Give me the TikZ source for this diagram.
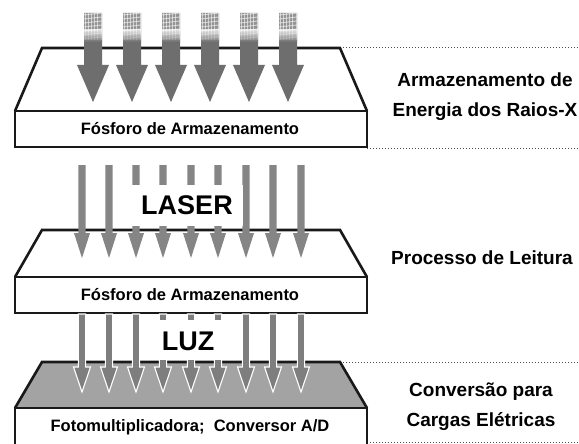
\documentclass[tikz,border=0pt]{standalone}
\usepackage{fontspec}
\setmainfont{Liberation Sans}
\definecolor{arrA}{HTML}{6E6E6E}
\definecolor{arrB}{HTML}{858585}
\definecolor{arrC}{HTML}{7E7E7E}
\definecolor{faceC}{HTML}{A3A3A3}
\newcommand\myarrow[7]{% x, ytop, yhead, ytip, halfshaft, halfhead, style
  \path[#7] (#1-#5,#2) -- (#1+#5,#2) -- (#1+#5,#3) -- (#1+#6,#3) -- (#1,#4)
    -- (#1-#6,#3) -- (#1-#5,#3) -- cycle;}
\newcommand\myplate[5]{% ytop, yfront, ybot, face fill, name
  \path[platefill,fill=#4] (42,#1) -- (340,#1) -- (367,#2) -- (15,#2) -- cycle;
  \draw[plateline] (15,#2) -- (42,#1) -- (340,#1) -- (367,#2);
  \draw[plateline,fill=white] (15,#2) rectangle (367,#3);
  \coordinate (#5) at (190,{(#2+#3)/2});}
\tikzset{
  plateline/.style={line width=2.6pt,line join=miter,draw=black!90},
  platefill/.style={draw=none},
  dotline/.style={dotted,line width=1pt,draw=black!70},
  platetext/.style={font=\fontsize{16.5}{18}\selectfont\bfseries,inner sep=0pt},
  sidetext/.style={font=\fontsize{19}{30}\selectfont\bfseries,align=center,inner sep=0pt},
  bigtext/.style={font=\fontsize{27}{30}\selectfont\bfseries,inner sep=0pt},
}
\begin{document}
\begin{tikzpicture}[x=1pt,y=-1pt]
\useasboundingbox (0,0) rectangle (579,444);
% dotted guide lines
\draw[dotline] (340,48) -- (579,48);
\draw[dotline] (367,148) -- (579,148);
\draw[dotline] (340,362) -- (579,362);
\draw[dotline] (367,442) -- (579,442);
% plate 1
\myplate{48}{111}{147}{white}{p1}
\node[platetext] (t1) at (p1) {Fósforo de Armazenamento};
\foreach \x in {93,132,171,210,249,288}{
  \myarrow{\x}{13}{65}{102}{9}{16}{fill=arrA}
  \begin{scope}
    \clip (\x-9,13) rectangle (\x+9,40);
    \fill[gray!85] (\x-9,13) rectangle (\x+9,40);
    \foreach \k in {0,...,6}{
      \draw[white,line width=1pt,opacity=0.55] (\x-9,15+\k*4) -- (\x+9,13+\k*4);
      \draw[white,line width=1pt,opacity=0.55] (\x-8+\k*3.2,13) -- (\x-8+\k*3.2,40);
    }
  \end{scope}
  \shade[top color=arrA!0,bottom color=arrA,opacity=0.7] (\x-9,30) rectangle (\x+9,42);
}
% plate 2
\myplate{230}{277}{313}{white}{p2}
\node[platetext] (t2) at (p2) {Fósforo de Armazenamento};
\foreach \x in {82,109,136,163,191,218,246,273,301}{
  \myarrow{\x}{165}{233}{258}{3.6}{8}{fill=arrB}
}
\fill[white] (128,185) rectangle (243,226);
\node[bigtext] (laser) at (187,205) {LASER};
% plate 3
\myplate{362}{408}{447}{faceC}{p3}
\node[platetext] (t3) at (190,427) {Fotomultiplicadora;\ \ Conversor A/D};
\foreach \x in {82,109,136,163,191,218,246,273,301}{
  \myarrow{\x}{314}{367}{392}{3.6}{8.5}{fill=arrC,draw=white,line width=1.1pt}
}
\fill[white] (141,320) rectangle (239,360);
\node[bigtext] (luz) at (188,341) {LUZ};
% side labels
\node[sidetext] (s1) at (485,97) {Armazenamento de\\Energia dos Raios-X};
\node[sidetext] (s2) at (482,258) {Processo de Leitura};
\node[sidetext] (s3) at (481,407) {Conversão para\\Cargas Elétricas};
\end{tikzpicture}
\end{document}
